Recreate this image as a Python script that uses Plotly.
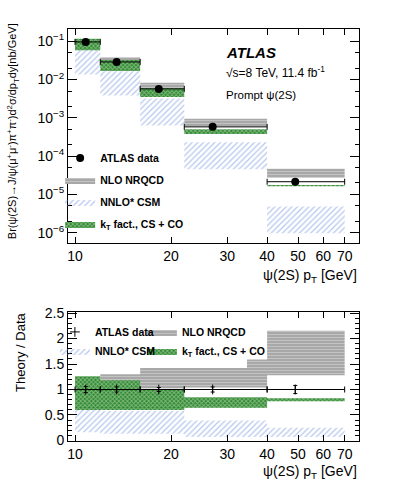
import plotly.graph_objects as go
from plotly.subplots import make_subplots

# ---------------- data ----------------
bin_lo = [10, 12, 16, 22, 40]
bin_hi = [12, 16, 22, 40, 70]
pt_mean = [10.8, 13.5, 18.3, 27.0, 49.0]
xsec = [0.096, 0.0288, 0.0057, 5.8e-4, 2.14e-5]
xsec_err = [0.005, 0.0014, 0.0003, 0.3e-4, 0.15e-5]

nlo_lo = [12, 16, 22, 40]
nlo_hi = [16, 22, 40, 70]
nlo_low = [0.030, 0.0057, 6.0e-4, 2.7e-5]
nlo_high = [0.038, 0.0082, 9.4e-4, 4.7e-5]

nnlo_low = [0.0135, 0.0038, 6.3e-4, 4.5e-5, 9.6e-7]
nnlo_high = [0.079, 0.0165, 0.0032, 2.3e-4, 4.8e-6]

kt_low = [0.058, 0.0168, 0.0035, 3.8e-4, 1.62e-5]
kt_high = [0.117, 0.0326, 0.0059, 5.0e-4, 1.75e-5]

ratio_one = [1, 1, 1, 1, 1]
ratio_err = [0.06, 0.05, 0.04, 0.05, 0.08]
r_nlo_low = [1.05, 1.02, 1.04, 1.28]
r_nlo_high = [1.30, 1.45, 1.59, 2.15]
r_nnlo_low = [0.16, 0.13, 0.13, 0.07, 0.07]
r_nnlo_high = [0.82, 0.58, 0.58, 0.39, 0.25]
r_kt_low = [0.60, 0.60, 0.60, 0.64, 0.77]
r_kt_high = [1.26, 1.18, 1.00, 0.85, 0.83]

top_yticks = [1e-6, 1e-5, 1e-4, 1e-3, 1e-2, 1e-1]
top_yticktext = ["10<sup>−6</sup>", "10<sup>−5</sup>", "10<sup>−4</sup>",
                 "10<sup>−3</sup>", "10<sup>−2</sup>", "10<sup>−1</sup>"]
xticks = [10, 20, 30, 40, 50, 60, 70]
ratio_ticks = [0, 0.5, 1, 1.5, 2, 2.5]

FONT = "Liberation Sans, Arial, Helvetica, sans-serif"


def rects(lo, hi, ylow, yhigh):
    xs, ys = [], []
    for a, b, l, h in zip(lo, hi, ylow, yhigh):
        xs += [a, b, b, a, a, None]
        ys += [l, l, h, h, l, None]
    return xs, ys


NLO_PAT = dict(shape="-", bgcolor="#a8a8a8", fgcolor="#e4e4e4", size=3, solidity=0.3)
NNLO_PAT = dict(shape="/", bgcolor="rgba(255,255,255,0)", fgcolor="#6d8edb", size=4, solidity=0.3)
KT_PAT = dict(shape="x", bgcolor="#2c862c", fgcolor="#d4ecd4", size=3, solidity=0.55)

fig = make_subplots(rows=2, cols=1, vertical_spacing=0.0)


def add_bands(row, leg_nlo, leg_nnlo, leg_kt, nlo, nnlo, kt):
    x, y = rects(nlo_lo, nlo_hi, *nlo)
    fig.add_trace(go.Scatter(x=x, y=y, fill="toself", mode="lines", line=dict(width=0),
                             fillpattern=NLO_PAT, name="NLO NRQCD", legend=leg_nlo,
                             legendgroup="nlo", legendrank=2, hoverinfo="skip"), row=row, col=1)
    x, y = rects(bin_lo, bin_hi, *nnlo)
    fig.add_trace(go.Scatter(x=x, y=y, fill="toself", mode="lines", line=dict(width=0),
                             fillpattern=NNLO_PAT, name="NNLO* CSM", legend=leg_nnlo,
                             legendgroup="nnlo", legendrank=3, hoverinfo="skip"), row=row, col=1)
    x, y = rects(bin_lo, bin_hi, *kt)
    fig.add_trace(go.Scatter(x=x, y=y, fill="toself", mode="lines", line=dict(width=0),
                             fillpattern=KT_PAT, name="k<sub>T</sub> fact., CS + CO", legend=leg_kt,
                             legendgroup="kt", legendrank=4, hoverinfo="skip"), row=row, col=1)


add_bands(1, "legend", "legend", "legend", (nlo_low, nlo_high), (nnlo_low, nnlo_high), (kt_low, kt_high))
add_bands(2, "legend3", "legend2", "legend3", (r_nlo_low, r_nlo_high), (r_nnlo_low, r_nnlo_high),
          (r_kt_low, r_kt_high))

ex_plus = [h - m for h, m in zip(bin_hi, pt_mean)]
ex_minus = [m - l for l, m in zip(bin_lo, pt_mean)]

fig.add_trace(go.Scatter(x=pt_mean, y=xsec, mode="markers",
                         marker=dict(color="black", size=8),
                         error_x=dict(type="data", array=ex_plus, arrayminus=ex_minus,
                                      color="black", thickness=1, width=3),
                         error_y=dict(type="data", array=xsec_err, color="black", thickness=1, width=0),
                         name="ATLAS data", legend="legend", legendgroup="data",
                         legendrank=1), row=1, col=1)

fig.add_trace(go.Scatter(x=pt_mean, y=ratio_one, mode="markers",
                         marker=dict(color="black", size=7, symbol="cross-thin-open",
                                     line=dict(color="black", width=1)),
                         error_x=dict(type="data", array=ex_plus, arrayminus=ex_minus,
                                      color="black", thickness=1, width=3),
                         error_y=dict(type="data", array=ratio_err, color="black", thickness=1, width=2),
                         name="ATLAS data", legend="legend2", legendgroup="data",
                         legendrank=1), row=2, col=1)

axis_common = dict(showline=True, linecolor="black", linewidth=1, mirror="ticks",
                   ticks="inside", tickcolor="black", showgrid=False, zeroline=False,
                   tickfont=dict(family=FONT, size=14, color="black"))

fig.update_xaxes(type="log", range=[0.978, 1.890], tickvals=xticks, ticklen=6, **axis_common)
fig.update_yaxes(type="log", range=[-6.27, -0.68], tickvals=top_yticks, ticktext=top_yticktext,
                 ticklen=9, minor=dict(ticks="inside", ticklen=4, tickcolor="black"),
                 row=1, col=1, **axis_common)
fig.update_yaxes(range=[-0.01, 2.52], tickvals=ratio_ticks, ticklen=9,
                 minor=dict(ticks="inside", ticklen=4, dtick=0.1, tickcolor="black"),
                 row=2, col=1, **axis_common)

leg_font = dict(family=FONT, size=10.5, weight="bold")
fig.update_layout(
    width=399, height=487,
    margin=dict(l=68, r=40, t=29, b=46),
    paper_bgcolor="white", plot_bgcolor="white",
    font=dict(family=FONT, color="black"),
    yaxis=dict(domain=[0.4806, 1.0]),
    yaxis2=dict(domain=[0.0, 0.3131]),
    legend=dict(x=-0.027, y=0.722, xanchor="left", yanchor="top", bgcolor="rgba(0,0,0,0)",
                tracegroupgap=3, font=leg_font),
    legend2=dict(x=-0.045, y=0.300, xanchor="left", yanchor="top", bgcolor="rgba(0,0,0,0)",
                 tracegroupgap=0, font=leg_font),
    legend3=dict(x=0.254, y=0.300, xanchor="left", yanchor="top", bgcolor="rgba(0,0,0,0)",
                 tracegroupgap=0, font=leg_font),
)

# white legend box of the ratio panel (drawn over the bands, under the legend text)
fig.add_shape(type="rect", xref="paper", yref="paper", x0=0.034, x1=0.615, y0=0.177, y1=0.2975,
              fillcolor="white", line=dict(width=0), layer="above")

annots = [
    dict(text="<b><i>ATLAS</i></b>", x=0.536, y=0.942, size=15),
    dict(text="√s=8 TeV, 11.4 fb<sup>-1</sup>", x=0.536, y=0.895, size=12),
    dict(text="Prompt ψ(2S)", x=0.536, y=0.840, size=11.5),
]
for a in annots:
    fig.add_annotation(text=a["text"], x=a["x"], y=a["y"], xref="paper", yref="paper",
                       xanchor="left", yanchor="middle", showarrow=False,
                       font=dict(family=FONT, size=a["size"], color="black"))

fig.add_annotation(text="ψ(2S) p<sub>T</sub> [GeV]", x=1.0, y=0.40, xref="paper", yref="paper",
                   xanchor="right", yanchor="middle", showarrow=False,
                   font=dict(family=FONT, size=14, color="black"))
fig.add_annotation(text="ψ(2S) p<sub>T</sub> [GeV]", x=1.0, y=-0.075, xref="paper", yref="paper",
                   xanchor="right", yanchor="middle", showarrow=False,
                   font=dict(family=FONT, size=14, color="black"))
fig.add_annotation(text="Br(ψ(2S)→J/ψ(μ<sup>+</sup>μ<sup>-</sup>)π<sup>+</sup>π<sup>-</sup>)d<sup>2</sup>σ/dp<sub>T</sub>dy[nb/GeV]",
                   x=-0.189, y=0.752, xref="paper", yref="paper", textangle=-90,
                   xanchor="center", yanchor="middle", showarrow=False,
                   font=dict(family=FONT, size=11, color="black"))
fig.add_annotation(text="Theory / Data", x=-0.165, y=0.216, xref="paper", yref="paper", textangle=-90,
                   xanchor="center", yanchor="middle", showarrow=False,
                   font=dict(family=FONT, size=13, color="black"))

fig.write_html("out.html", config={"displayModeBar": False},
               post_script="document.body.style.margin='0px';")
